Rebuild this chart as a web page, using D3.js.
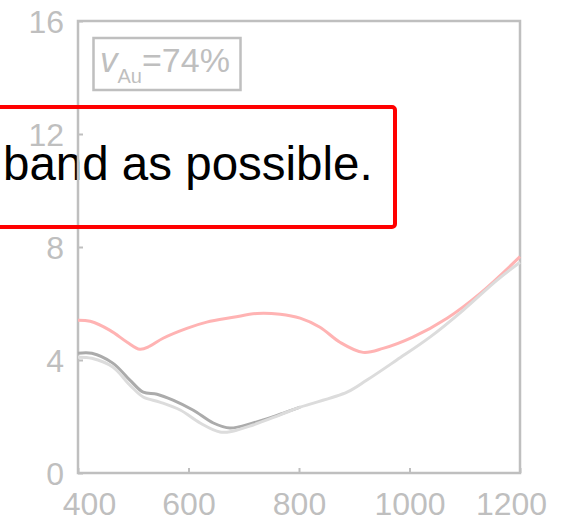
<!DOCTYPE html>
<html>
<head>
<meta charset="utf-8">
<script src="https://cdn.jsdelivr.net/npm/d3@7"></script>
<style>
  body { margin: 0; background: #fff; }
  svg text { font-family: "Liberation Sans", Arial, sans-serif; }
</style>
</head>
<body>
<div id="chart"></div>
<script>
// wavelength (nm) vs value
var pinkX = [400, 422, 458, 489, 512, 530, 554, 597, 633, 681, 724, 766, 802, 838, 874, 916, 952, 1006, 1068, 1128, 1200];
var pinkY = [5.41, 5.37, 5.05, 4.63, 4.38, 4.49, 4.77, 5.12, 5.34, 5.51, 5.65, 5.62, 5.48, 5.16, 4.63, 4.27, 4.41, 4.81, 5.48, 6.36, 7.66];

var darkX = [400, 425, 463, 494, 518, 543, 572, 608, 645, 675, 717, 766, 802];
var darkY = [4.24, 4.24, 3.89, 3.29, 2.86, 2.79, 2.58, 2.23, 1.77, 1.59, 1.77, 2.08, 2.33];

var lightX = [400, 425, 463, 494, 518, 548, 585, 621, 657, 680, 717, 766, 802, 887, 923, 977, 1037, 1097, 1158, 1200];
var lightY = [4.10, 4.06, 3.75, 3.11, 2.69, 2.51, 2.23, 1.77, 1.45, 1.48, 1.70, 2.06, 2.33, 2.86, 3.29, 4.00, 4.81, 5.76, 6.82, 7.46];

var xTicks = [400, 600, 800, 1000, 1200];
var yTicks = [0, 4, 8, 12, 16];

var W = 561, H = 522;
var mLeft = 78, mRight = 520, mTop = 21, mBottom = 473;
var axisCol = "#bfbfbf";

var svg = d3.select("#chart").append("svg")
    .attr("width", W).attr("height", H);

var x = d3.scaleLinear().domain([400, 1200]).range([mLeft, mRight]);
var y = d3.scaleLinear().domain([0, 16]).range([mBottom, mTop]);

// callout text sits under the axes in the original
svg.append("text")
    .attr("x", 3).attr("y", 180)
    .attr("fill", "#000").attr("font-size", 47.5)
    .text("band as possible.");

// frame
svg.append("rect")
    .attr("x", mLeft).attr("y", mTop)
    .attr("width", mRight - mLeft).attr("height", mBottom - mTop)
    .attr("fill", "none").attr("stroke", axisCol).attr("stroke-width", 2.5);

var xAxis = svg.append("g")
    .attr("transform", "translate(0," + mBottom + ")")
    .call(d3.axisBottom(x).tickValues(xTicks).tickFormat(d3.format("d")).tickSize(-5).tickPadding(12));
var yAxis = svg.append("g")
    .attr("transform", "translate(" + mLeft + ",0)")
    .call(d3.axisLeft(y).tickValues(yTicks).tickFormat(d3.format("d")).tickSize(-5).tickPadding(14));

[xAxis, yAxis].forEach(function(g) {
    g.select(".domain").remove();
    g.selectAll("line").attr("stroke", axisCol).attr("stroke-width", 2);
    g.selectAll("text").attr("fill", axisCol).attr("font-size", 32)
        .attr("font-family", "'Liberation Sans', Arial, sans-serif");
});
xAxis.selectAll("text").attr("dy", "0.95em");
// edge labels are pulled inward in the original
xAxis.selectAll("text").attr("dx", function(d) {
    return d === 400 ? 11 : d === 1200 ? -9 : 0;
});
yAxis.selectAll("text").attr("dy", "0.36em");

var line = d3.line().curve(d3.curveCatmullRom.alpha(0.5))
    .x(function(d) { return x(d[0]); })
    .y(function(d) { return y(d[1]); });

function series(xs, ys) { return xs.map(function(v, i) { return [v, ys[i]]; }); }

svg.append("path").datum(series(pinkX, pinkY))
    .attr("d", line).attr("fill", "none")
    .attr("stroke", "#ffb3b3").attr("stroke-width", 3);
svg.append("path").datum(series(darkX, darkY))
    .attr("d", line).attr("fill", "none")
    .attr("stroke", "#ababab").attr("stroke-width", 3);
svg.append("path").datum(series(lightX, lightY))
    .attr("d", line).attr("fill", "none")
    .attr("stroke", "#dcdcdc").attr("stroke-width", 3);

// legend label box
svg.append("rect")
    .attr("x", 93.5).attr("y", 38).attr("width", 147).attr("height", 52)
    .attr("fill", "none").attr("stroke", axisCol).attr("stroke-width", 2.5);
var lab = svg.append("text").attr("x", 100).attr("y", 72)
    .attr("fill", axisCol).attr("font-size", 34);
lab.append("tspan").attr("font-style", "italic").attr("font-size", 35).text("v");
lab.append("tspan").attr("font-size", 20).attr("dy", 11).text("Au");
lab.append("tspan").attr("dy", -11).text("=74%");

// red callout
svg.append("rect")
    .attr("x", -10).attr("y", 107).attr("width", 405).attr("height", 120)
    .attr("rx", 3)
    .attr("fill", "none").attr("stroke", "#ff0000").attr("stroke-width", 4);
</script>
</body>
</html>
